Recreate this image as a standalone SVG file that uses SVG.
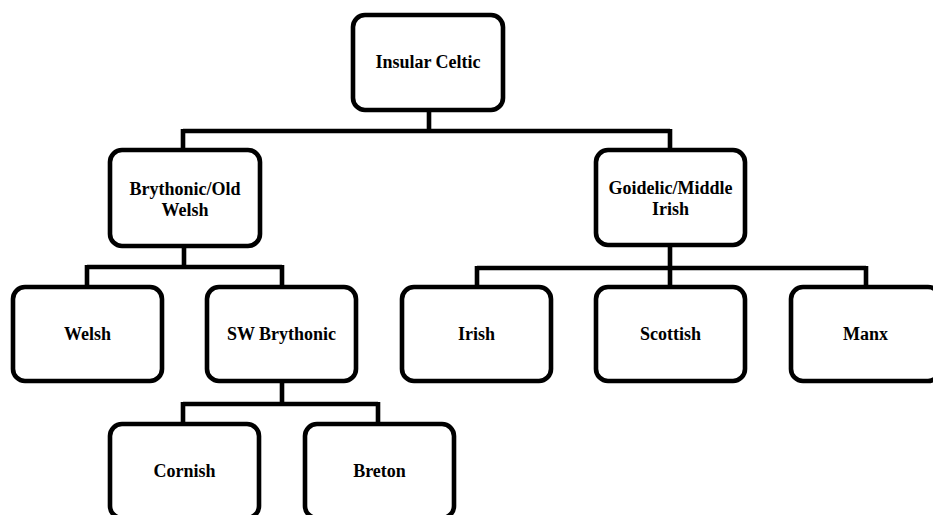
<svg xmlns="http://www.w3.org/2000/svg" width="933" height="515" viewBox="0 0 933 515">
<style>
.box{fill:#fff;stroke:#000;stroke-width:4.6}
.lbl{font-family:"Liberation Serif","Times New Roman",serif;font-size:18px;font-weight:bold;text-anchor:middle;fill:#000}
.conn{fill:none;stroke:#000;stroke-width:4.6;stroke-linejoin:miter;stroke-linecap:butt}
</style>
<rect width="933" height="515" fill="#fff"/>
<g id="connectors">
<path class="conn" d="M429,110 V131 M183,131 H670 M183,129 V150 M670,129 V150"/>
<path class="conn" d="M184,246 V267 M87,267 H282 M87,265 V287 M282,265 V287"/>
<path class="conn" d="M282,381 V404 M183,404 H378 M183,402 V424 M378,402 V424"/>
<path class="conn" d="M670,245 V268 M477,268 H866 M477,266 V287 M670,266 V287 M866,266 V287"/>
</g>
<g id="insular-celtic"><rect class="box" x="353" y="15" width="150" height="95" rx="12"/><text class="lbl" x="428" y="68">Insular Celtic</text></g>
<g id="brythonic"><rect class="box" x="110" y="150" width="150" height="96" rx="12"/><text class="lbl" x="185" y="195">Brythonic/Old</text><text class="lbl" x="185" y="216">Welsh</text></g>
<g id="goidelic"><rect class="box" x="596" y="150" width="149" height="95" rx="12"/><text class="lbl" x="670.5" y="194">Goidelic/Middle</text><text class="lbl" x="670.5" y="215">Irish</text></g>
<g id="welsh"><rect class="box" x="13" y="287" width="149" height="94" rx="12"/><text class="lbl" x="87.5" y="340">Welsh</text></g>
<g id="sw-brythonic"><rect class="box" x="207" y="287" width="149" height="94" rx="12"/><text class="lbl" x="281.5" y="340">SW Brythonic</text></g>
<g id="irish"><rect class="box" x="402" y="287" width="149" height="94" rx="12"/><text class="lbl" x="476.5" y="340">Irish</text></g>
<g id="scottish"><rect class="box" x="596" y="287" width="149" height="94" rx="12"/><text class="lbl" x="670.5" y="340">Scottish</text></g>
<g id="manx"><rect class="box" x="791" y="287" width="149" height="94" rx="12"/><text class="lbl" x="865.5" y="340">Manx</text></g>
<g id="cornish"><rect class="box" x="110" y="424" width="149" height="94" rx="12"/><text class="lbl" x="184.5" y="477">Cornish</text></g>
<g id="breton"><rect class="box" x="305" y="424" width="149" height="94" rx="12"/><text class="lbl" x="379.5" y="477">Breton</text></g>
</svg>
